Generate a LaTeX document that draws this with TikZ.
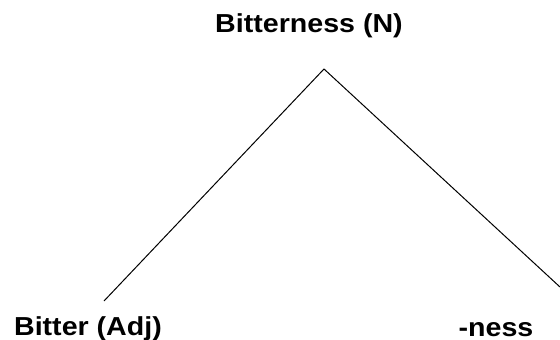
\documentclass[tikz,border=0pt]{standalone}
\usepackage{fontspec}
\setmainfont{Liberation Sans}
\newfontfamily\wordfont{Liberation Sans}[FakeStretch=1.1]
\usepackage{tikz}
\usetikzlibrary{positioning}
\tikzset{word/.style={font=\wordfont\fontsize{26}{31}\selectfont\bfseries, inner sep=0pt, anchor=base}}

\begin{document}
\begin{tikzpicture}[x=1pt, y=-1pt]
  \useasboundingbox (0,0) rectangle (560,340);
  \node[word] (whole) at (309,32) {Bitterness (N)};
  \node[word] (stem) at (88,335) {Bitter (Adj)};
  \node[word] (suffix) at (496,336) {-ness};
  \coordinate (apex) at (324,69);
  \coordinate (stemtop) at (104,301);
  \coordinate (suffixtop) at (560,287);
  \draw[line width=1pt] (stemtop) -- (apex) -- (suffixtop);
\end{tikzpicture}
\end{document}
